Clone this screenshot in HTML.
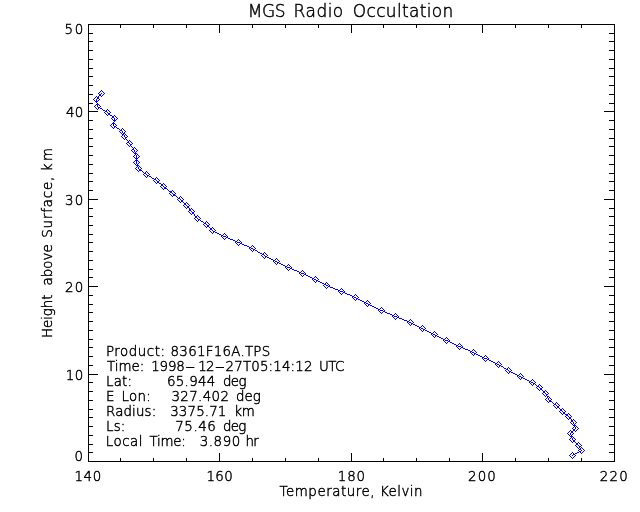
<!DOCTYPE html>
<html><head><meta charset="utf-8"><title>MGS Radio Occultation</title>
<style>html,body{margin:0;padding:0;background:#fff}svg{display:block}text{font-family:"DejaVu Sans Light","DejaVu Sans","Liberation Sans",sans-serif;font-weight:200;font-size:13.4px;fill:#000;stroke:#000;stroke-width:0.45px;white-space:pre}.t{font-size:17.0px}.ax{stroke:#000;stroke-width:1;fill:none;shape-rendering:crispEdges}</style></head><body>
<svg width="640" height="512" viewBox="0 0 640 512">
<rect width="640" height="512" fill="#fff"/>
<path class="ax" d="M88.5 24.5H614.5V461.5H88.5ZM120.5 462v-4M120.5 24v4M153.5 462v-4M153.5 24v4M186.5 462v-4M186.5 24v4M219.5 462v-9M219.5 24v9M252.5 462v-4M252.5 24v4M285.5 462v-4M285.5 24v4M318.5 462v-4M318.5 24v4M351.5 462v-9M351.5 24v9M383.5 462v-4M383.5 24v4M416.5 462v-4M416.5 24v4M449.5 462v-4M449.5 24v4M482.5 462v-9M482.5 24v9M515.5 462v-4M515.5 24v4M548.5 462v-4M548.5 24v4M581.5 462v-4M581.5 24v4M88 452.5h5M615 452.5h-6M88 444.5h5M615 444.5h-6M88 435.5h5M615 435.5h-6M88 426.5h5M615 426.5h-6M88 417.5h5M615 417.5h-6M88 409.5h5M615 409.5h-6M88 400.5h5M615 400.5h-6M88 391.5h5M615 391.5h-6M88 382.5h5M615 382.5h-6M88 374.5h10M615 374.5h-11M88 365.5h5M615 365.5h-6M88 356.5h5M615 356.5h-6M88 347.5h5M615 347.5h-6M88 339.5h5M615 339.5h-6M88 330.5h5M615 330.5h-6M88 321.5h5M615 321.5h-6M88 312.5h5M615 312.5h-6M88 304.5h5M615 304.5h-6M88 295.5h5M615 295.5h-6M88 286.5h10M615 286.5h-11M88 277.5h5M615 277.5h-6M88 269.5h5M615 269.5h-6M88 260.5h5M615 260.5h-6M88 251.5h5M615 251.5h-6M88 242.5h5M615 242.5h-6M88 234.5h5M615 234.5h-6M88 225.5h5M615 225.5h-6M88 216.5h5M615 216.5h-6M88 208.5h5M615 208.5h-6M88 199.5h10M615 199.5h-11M88 190.5h5M615 190.5h-6M88 181.5h5M615 181.5h-6M88 173.5h5M615 173.5h-6M88 164.5h5M615 164.5h-6M88 155.5h5M615 155.5h-6M88 146.5h5M615 146.5h-6M88 138.5h5M615 138.5h-6M88 129.5h5M615 129.5h-6M88 120.5h5M615 120.5h-6M88 111.5h10M615 111.5h-11M88 103.5h5M615 103.5h-6M88 94.5h5M615 94.5h-6M88 85.5h5M615 85.5h-6M88 76.5h5M615 76.5h-6M88 68.5h5M615 68.5h-6M88 59.5h5M615 59.5h-6M88 50.5h5M615 50.5h-6M88 41.5h5M615 41.5h-6M88 33.5h5M615 33.5h-6"/>
<path fill="#0000ff" shape-rendering="crispEdges" d="M101 90h1v1h-1zM100 91h1v1h-1zM102 91h1v1h-1zM99 92h1v1h-1zM103 92h1v1h-1zM98 93h1v1h-1zM101 93h1v1h-1zM104 93h1v1h-1zM99 94h2v1h-2zM103 94h1v1h-1zM99 95h2v1h-2zM102 95h1v1h-1zM96 96h1v1h-1zM98 96h1v1h-1zM101 96h1v1h-1zM95 97h1v1h-1zM97 97h2v1h-2zM94 98h1v1h-1zM97 98h2v1h-2zM93 99h1v1h-1zM96 99h1v1h-1zM99 99h1v1h-1zM94 100h1v1h-1zM96 100h1v1h-1zM98 100h1v1h-1zM95 101h3v1h-3zM96 102h1v1h-1zM97 103h1v1h-1zM96 104h3v1h-3zM95 105h1v1h-1zM97 105h1v1h-1zM99 105h1v1h-1zM94 106h1v1h-1zM97 106h1v1h-1zM100 106h1v1h-1zM95 107h1v1h-1zM98 107h2v1h-2zM96 108h1v1h-1zM98 108h1v1h-1zM100 108h2v1h-2zM97 109h1v1h-1zM102 109h1v1h-1zM107 109h1v1h-1zM103 110h2v1h-2zM106 110h1v1h-1zM108 110h1v1h-1zM105 111h2v1h-2zM109 111h1v1h-1zM104 112h1v1h-1zM107 112h1v1h-1zM110 112h1v1h-1zM105 113h1v1h-1zM108 113h2v1h-2zM106 114h1v1h-1zM108 114h2v1h-2zM107 115h1v1h-1zM110 115h2v1h-2zM114 115h1v1h-1zM112 116h2v1h-2zM115 116h1v1h-1zM112 117h2v1h-2zM116 117h1v1h-1zM111 118h1v1h-1zM114 118h1v1h-1zM117 118h1v1h-1zM112 119h1v1h-1zM114 119h1v1h-1zM116 119h1v1h-1zM113 120h3v1h-3zM114 121h1v1h-1zM113 122h1v1h-1zM112 123h3v1h-3zM111 124h1v1h-1zM113 124h1v1h-1zM115 124h1v1h-1zM110 125h1v1h-1zM113 125h1v1h-1zM116 125h1v1h-1zM111 126h1v1h-1zM114 126h2v1h-2zM112 127h1v1h-1zM114 127h1v1h-1zM116 127h1v1h-1zM113 128h1v1h-1zM117 128h2v1h-2zM122 128h1v1h-1zM119 129h1v1h-1zM121 129h1v1h-1zM123 129h1v1h-1zM120 130h2v1h-2zM124 130h1v1h-1zM119 131h1v1h-1zM122 131h1v1h-1zM125 131h1v1h-1zM120 132h1v1h-1zM122 132h1v1h-1zM124 132h1v1h-1zM121 133h1v1h-1zM123 133h2v1h-2zM122 134h2v1h-2zM125 134h1v1h-1zM122 135h1v1h-1zM124 135h1v1h-1zM126 135h1v1h-1zM121 136h1v1h-1zM124 136h1v1h-1zM127 136h1v1h-1zM122 137h1v1h-1zM125 137h2v1h-2zM123 138h1v1h-1zM125 138h1v1h-1zM124 139h1v1h-1zM126 139h1v1h-1zM127 140h1v1h-1zM129 140h1v1h-1zM128 141h1v1h-1zM130 141h1v1h-1zM127 142h2v1h-2zM131 142h1v1h-1zM126 143h1v1h-1zM129 143h1v1h-1zM132 143h1v1h-1zM127 144h1v1h-1zM130 144h2v1h-2zM128 145h1v1h-1zM130 145h1v1h-1zM129 146h1v1h-1zM131 146h1v1h-1zM132 147h1v1h-1zM134 147h1v1h-1zM133 148h1v1h-1zM135 148h1v1h-1zM132 149h2v1h-2zM136 149h1v1h-1zM131 150h1v1h-1zM134 150h1v1h-1zM137 150h1v1h-1zM132 151h1v1h-1zM134 151h1v1h-1zM136 151h1v1h-1zM133 152h1v1h-1zM135 152h1v1h-1zM134 153h3v1h-3zM135 154h1v1h-1zM137 154h1v1h-1zM134 155h1v1h-1zM136 155h1v1h-1zM138 155h1v1h-1zM133 156h1v1h-1zM136 156h1v1h-1zM139 156h1v1h-1zM134 157h1v1h-1zM136 157h1v1h-1zM138 157h1v1h-1zM135 158h3v1h-3zM136 159h1v1h-1zM135 160h3v1h-3zM134 161h1v1h-1zM136 161h1v1h-1zM138 161h1v1h-1zM133 162h1v1h-1zM136 162h1v1h-1zM139 162h1v1h-1zM134 163h1v1h-1zM136 163h1v1h-1zM138 163h1v1h-1zM135 164h1v1h-1zM137 164h1v1h-1zM136 165h3v1h-3zM137 166h1v1h-1zM139 166h1v1h-1zM136 167h1v1h-1zM138 167h1v1h-1zM140 167h1v1h-1zM135 168h1v1h-1zM138 168h1v1h-1zM141 168h1v1h-1zM136 169h1v1h-1zM139 169h2v1h-2zM137 170h1v1h-1zM139 170h3v1h-3zM138 171h1v1h-1zM142 171h1v1h-1zM146 171h1v1h-1zM143 172h1v1h-1zM145 172h1v1h-1zM147 172h1v1h-1zM144 173h2v1h-2zM148 173h1v1h-1zM143 174h1v1h-1zM146 174h1v1h-1zM149 174h1v1h-1zM144 175h1v1h-1zM147 175h2v1h-2zM145 176h1v1h-1zM147 176h1v1h-1zM149 176h2v1h-2zM146 177h1v1h-1zM151 177h1v1h-1zM156 177h1v1h-1zM152 178h2v1h-2zM155 178h1v1h-1zM157 178h1v1h-1zM154 179h2v1h-2zM158 179h1v1h-1zM153 180h1v1h-1zM156 180h1v1h-1zM159 180h1v1h-1zM154 181h1v1h-1zM157 181h2v1h-2zM155 182h1v1h-1zM157 182h2v1h-2zM156 183h1v1h-1zM159 183h2v1h-2zM163 183h1v1h-1zM161 184h2v1h-2zM164 184h1v1h-1zM161 185h2v1h-2zM165 185h1v1h-1zM160 186h1v1h-1zM163 186h1v1h-1zM166 186h1v1h-1zM161 187h1v1h-1zM164 187h2v1h-2zM162 188h1v1h-1zM164 188h3v1h-3zM163 189h1v1h-1zM167 189h1v1h-1zM168 190h1v1h-1zM172 190h1v1h-1zM169 191h3v1h-3zM173 191h1v1h-1zM170 192h2v1h-2zM174 192h1v1h-1zM169 193h1v1h-1zM172 193h1v1h-1zM175 193h1v1h-1zM170 194h1v1h-1zM173 194h2v1h-2zM171 195h1v1h-1zM173 195h3v1h-3zM172 196h1v1h-1zM176 196h1v1h-1zM180 196h1v1h-1zM177 197h1v1h-1zM179 197h1v1h-1zM181 197h1v1h-1zM178 198h2v1h-2zM182 198h1v1h-1zM177 199h1v1h-1zM180 199h1v1h-1zM183 199h1v1h-1zM178 200h1v1h-1zM181 200h2v1h-2zM179 201h1v1h-1zM181 201h2v1h-2zM180 202h1v1h-1zM183 202h1v1h-1zM186 202h1v1h-1zM184 203h2v1h-2zM187 203h1v1h-1zM184 204h2v1h-2zM188 204h1v1h-1zM183 205h1v1h-1zM186 205h1v1h-1zM189 205h1v1h-1zM184 206h1v1h-1zM187 206h2v1h-2zM185 207h1v1h-1zM187 207h2v1h-2zM186 208h1v1h-1zM189 208h1v1h-1zM191 208h1v1h-1zM189 209h2v1h-2zM192 209h1v1h-1zM189 210h2v1h-2zM193 210h1v1h-1zM188 211h1v1h-1zM191 211h1v1h-1zM194 211h1v1h-1zM189 212h1v1h-1zM192 212h2v1h-2zM190 213h1v1h-1zM192 213h2v1h-2zM191 214h1v1h-1zM194 214h1v1h-1zM194 215h1v1h-1zM197 215h1v1h-1zM195 216h2v1h-2zM198 216h1v1h-1zM195 217h2v1h-2zM199 217h1v1h-1zM194 218h1v1h-1zM197 218h1v1h-1zM200 218h1v1h-1zM195 219h1v1h-1zM198 219h2v1h-2zM196 220h1v1h-1zM198 220h1v1h-1zM200 220h1v1h-1zM197 221h1v1h-1zM201 221h2v1h-2zM206 221h1v1h-1zM203 222h1v1h-1zM205 222h1v1h-1zM207 222h1v1h-1zM204 223h2v1h-2zM208 223h1v1h-1zM203 224h1v1h-1zM206 224h1v1h-1zM209 224h1v1h-1zM204 225h1v1h-1zM207 225h2v1h-2zM205 226h1v1h-1zM207 226h2v1h-2zM206 227h1v1h-1zM209 227h1v1h-1zM212 227h1v1h-1zM210 228h2v1h-2zM213 228h1v1h-1zM210 229h2v1h-2zM214 229h1v1h-1zM209 230h1v1h-1zM212 230h1v1h-1zM215 230h1v1h-1zM210 231h1v1h-1zM213 231h2v1h-2zM211 232h1v1h-1zM213 232h1v1h-1zM215 232h2v1h-2zM212 233h1v1h-1zM217 233h2v1h-2zM224 233h1v1h-1zM219 234h2v1h-2zM223 234h1v1h-1zM225 234h1v1h-1zM221 235h2v1h-2zM226 235h1v1h-1zM221 236h1v1h-1zM223 236h3v1h-3zM227 236h1v1h-1zM222 237h1v1h-1zM226 237h2v1h-2zM223 238h1v1h-1zM225 238h1v1h-1zM228 238h2v1h-2zM224 239h1v1h-1zM230 239h3v1h-3zM238 239h1v1h-1zM233 240h2v1h-2zM237 240h1v1h-1zM239 240h1v1h-1zM235 241h2v1h-2zM240 241h1v1h-1zM235 242h1v1h-1zM237 242h3v1h-3zM241 242h1v1h-1zM236 243h1v1h-1zM240 243h2v1h-2zM237 244h1v1h-1zM239 244h1v1h-1zM242 244h2v1h-2zM238 245h1v1h-1zM244 245h3v1h-3zM252 245h1v1h-1zM247 246h2v1h-2zM251 246h1v1h-1zM253 246h1v1h-1zM249 247h2v1h-2zM254 247h1v1h-1zM249 248h1v1h-1zM251 248h2v1h-2zM255 248h1v1h-1zM250 249h1v1h-1zM253 249h2v1h-2zM251 250h1v1h-1zM253 250h1v1h-1zM255 250h2v1h-2zM252 251h1v1h-1zM257 251h1v1h-1zM258 252h2v1h-2zM264 252h1v1h-1zM260 253h2v1h-2zM263 253h1v1h-1zM265 253h1v1h-1zM262 254h2v1h-2zM266 254h1v1h-1zM261 255h1v1h-1zM264 255h1v1h-1zM267 255h1v1h-1zM262 256h1v1h-1zM265 256h2v1h-2zM263 257h1v1h-1zM265 257h1v1h-1zM267 257h2v1h-2zM264 258h1v1h-1zM269 258h2v1h-2zM276 258h1v1h-1zM271 259h2v1h-2zM275 259h1v1h-1zM277 259h1v1h-1zM273 260h2v1h-2zM278 260h1v1h-1zM273 261h1v1h-1zM275 261h2v1h-2zM279 261h1v1h-1zM274 262h1v1h-1zM277 262h2v1h-2zM275 263h1v1h-1zM277 263h1v1h-1zM279 263h2v1h-2zM276 264h1v1h-1zM281 264h2v1h-2zM288 264h1v1h-1zM283 265h2v1h-2zM287 265h1v1h-1zM289 265h1v1h-1zM285 266h2v1h-2zM290 266h1v1h-1zM285 267h1v1h-1zM287 267h3v1h-3zM291 267h1v1h-1zM286 268h1v1h-1zM290 268h2v1h-2zM287 269h1v1h-1zM289 269h1v1h-1zM292 269h2v1h-2zM288 270h1v1h-1zM294 270h3v1h-3zM302 270h1v1h-1zM297 271h2v1h-2zM301 271h1v1h-1zM303 271h1v1h-1zM299 272h2v1h-2zM304 272h1v1h-1zM299 273h1v1h-1zM301 273h3v1h-3zM305 273h1v1h-1zM300 274h1v1h-1zM304 274h2v1h-2zM301 275h1v1h-1zM303 275h1v1h-1zM306 275h2v1h-2zM302 276h1v1h-1zM308 276h2v1h-2zM315 276h1v1h-1zM310 277h2v1h-2zM314 277h1v1h-1zM316 277h1v1h-1zM312 278h2v1h-2zM317 278h1v1h-1zM312 279h1v1h-1zM314 279h2v1h-2zM318 279h1v1h-1zM313 280h1v1h-1zM316 280h2v1h-2zM314 281h1v1h-1zM316 281h1v1h-1zM318 281h2v1h-2zM315 282h1v1h-1zM320 282h2v1h-2zM326 282h1v1h-1zM322 283h2v1h-2zM325 283h1v1h-1zM327 283h1v1h-1zM324 284h2v1h-2zM328 284h1v1h-1zM323 285h1v1h-1zM326 285h2v1h-2zM329 285h1v1h-1zM324 286h1v1h-1zM328 286h2v1h-2zM325 287h1v1h-1zM327 287h1v1h-1zM330 287h3v1h-3zM326 288h1v1h-1zM333 288h2v1h-2zM341 288h1v1h-1zM335 289h3v1h-3zM340 289h1v1h-1zM342 289h1v1h-1zM338 290h2v1h-2zM343 290h1v1h-1zM338 291h1v1h-1zM340 291h3v1h-3zM344 291h1v1h-1zM339 292h1v1h-1zM343 292h2v1h-2zM340 293h1v1h-1zM342 293h1v1h-1zM345 293h2v1h-2zM341 294h1v1h-1zM347 294h3v1h-3zM355 294h1v1h-1zM350 295h2v1h-2zM354 295h1v1h-1zM356 295h1v1h-1zM352 296h2v1h-2zM357 296h1v1h-1zM352 297h1v1h-1zM354 297h2v1h-2zM358 297h1v1h-1zM353 298h1v1h-1zM356 298h2v1h-2zM354 299h1v1h-1zM356 299h1v1h-1zM358 299h2v1h-2zM355 300h1v1h-1zM360 300h2v1h-2zM367 300h1v1h-1zM362 301h2v1h-2zM366 301h1v1h-1zM368 301h1v1h-1zM364 302h2v1h-2zM369 302h1v1h-1zM364 303h1v1h-1zM366 303h2v1h-2zM370 303h1v1h-1zM365 304h1v1h-1zM368 304h2v1h-2zM366 305h1v1h-1zM368 305h1v1h-1zM370 305h2v1h-2zM367 306h1v1h-1zM372 306h2v1h-2zM374 307h2v1h-2zM381 307h1v1h-1zM376 308h2v1h-2zM380 308h1v1h-1zM382 308h1v1h-1zM378 309h2v1h-2zM383 309h1v1h-1zM378 310h1v1h-1zM380 310h3v1h-3zM384 310h1v1h-1zM379 311h1v1h-1zM383 311h2v1h-2zM380 312h1v1h-1zM382 312h1v1h-1zM385 312h2v1h-2zM381 313h1v1h-1zM387 313h3v1h-3zM395 313h1v1h-1zM390 314h2v1h-2zM394 314h1v1h-1zM396 314h1v1h-1zM392 315h2v1h-2zM397 315h1v1h-1zM392 316h1v1h-1zM394 316h3v1h-3zM398 316h1v1h-1zM393 317h1v1h-1zM397 317h2v1h-2zM394 318h1v1h-1zM396 318h1v1h-1zM399 318h3v1h-3zM395 319h1v1h-1zM402 319h2v1h-2zM410 319h1v1h-1zM404 320h3v1h-3zM409 320h1v1h-1zM411 320h1v1h-1zM407 321h2v1h-2zM412 321h1v1h-1zM407 322h1v1h-1zM409 322h2v1h-2zM413 322h1v1h-1zM408 323h1v1h-1zM411 323h2v1h-2zM409 324h1v1h-1zM411 324h1v1h-1zM413 324h2v1h-2zM410 325h1v1h-1zM415 325h2v1h-2zM422 325h1v1h-1zM417 326h2v1h-2zM421 326h1v1h-1zM423 326h1v1h-1zM419 327h2v1h-2zM424 327h1v1h-1zM419 328h1v1h-1zM421 328h2v1h-2zM425 328h1v1h-1zM420 329h1v1h-1zM423 329h2v1h-2zM421 330h1v1h-1zM423 330h1v1h-1zM425 330h2v1h-2zM422 331h1v1h-1zM427 331h2v1h-2zM434 331h1v1h-1zM429 332h2v1h-2zM433 332h1v1h-1zM435 332h1v1h-1zM431 333h2v1h-2zM436 333h1v1h-1zM431 334h1v1h-1zM433 334h2v1h-2zM437 334h1v1h-1zM432 335h1v1h-1zM435 335h2v1h-2zM433 336h1v1h-1zM435 336h1v1h-1zM437 336h2v1h-2zM434 337h1v1h-1zM439 337h2v1h-2zM446 337h1v1h-1zM441 338h2v1h-2zM445 338h1v1h-1zM447 338h1v1h-1zM443 339h2v1h-2zM448 339h1v1h-1zM443 340h1v1h-1zM445 340h3v1h-3zM449 340h1v1h-1zM444 341h1v1h-1zM448 341h2v1h-2zM445 342h1v1h-1zM447 342h1v1h-1zM450 342h2v1h-2zM446 343h1v1h-1zM452 343h2v1h-2zM459 343h1v1h-1zM454 344h2v1h-2zM458 344h1v1h-1zM460 344h1v1h-1zM456 345h2v1h-2zM461 345h1v1h-1zM456 346h1v1h-1zM458 346h3v1h-3zM462 346h1v1h-1zM457 347h1v1h-1zM461 347h2v1h-2zM458 348h1v1h-1zM460 348h1v1h-1zM463 348h2v1h-2zM459 349h1v1h-1zM465 349h3v1h-3zM473 349h1v1h-1zM468 350h2v1h-2zM472 350h1v1h-1zM474 350h1v1h-1zM470 351h2v1h-2zM475 351h1v1h-1zM470 352h1v1h-1zM472 352h2v1h-2zM476 352h1v1h-1zM471 353h1v1h-1zM474 353h2v1h-2zM472 354h1v1h-1zM474 354h1v1h-1zM476 354h2v1h-2zM473 355h1v1h-1zM478 355h2v1h-2zM485 355h1v1h-1zM480 356h2v1h-2zM484 356h1v1h-1zM486 356h1v1h-1zM482 357h2v1h-2zM487 357h1v1h-1zM482 358h1v1h-1zM484 358h3v1h-3zM488 358h1v1h-1zM483 359h1v1h-1zM487 359h2v1h-2zM484 360h1v1h-1zM486 360h1v1h-1zM489 360h2v1h-2zM485 361h1v1h-1zM491 361h2v1h-2zM498 361h1v1h-1zM493 362h2v1h-2zM497 362h1v1h-1zM499 362h1v1h-1zM495 363h2v1h-2zM500 363h1v1h-1zM495 364h1v1h-1zM497 364h2v1h-2zM501 364h1v1h-1zM496 365h1v1h-1zM499 365h2v1h-2zM497 366h1v1h-1zM499 366h1v1h-1zM501 366h2v1h-2zM498 367h1v1h-1zM503 367h1v1h-1zM508 367h1v1h-1zM504 368h2v1h-2zM507 368h1v1h-1zM509 368h1v1h-1zM506 369h2v1h-2zM510 369h1v1h-1zM505 370h1v1h-1zM508 370h1v1h-1zM511 370h1v1h-1zM506 371h1v1h-1zM509 371h2v1h-2zM507 372h1v1h-1zM509 372h1v1h-1zM511 372h2v1h-2zM508 373h1v1h-1zM513 373h2v1h-2zM520 373h1v1h-1zM515 374h2v1h-2zM519 374h1v1h-1zM521 374h1v1h-1zM517 375h2v1h-2zM522 375h1v1h-1zM517 376h1v1h-1zM519 376h2v1h-2zM523 376h1v1h-1zM518 377h1v1h-1zM521 377h2v1h-2zM519 378h1v1h-1zM521 378h1v1h-1zM523 378h2v1h-2zM520 379h1v1h-1zM525 379h2v1h-2zM532 379h1v1h-1zM527 380h2v1h-2zM531 380h1v1h-1zM533 380h1v1h-1zM529 381h2v1h-2zM534 381h1v1h-1zM529 382h1v1h-1zM531 382h2v1h-2zM535 382h1v1h-1zM530 383h1v1h-1zM533 383h2v1h-2zM531 384h1v1h-1zM533 384h1v1h-1zM535 384h1v1h-1zM539 384h1v1h-1zM532 385h1v1h-1zM536 385h1v1h-1zM538 385h1v1h-1zM540 385h1v1h-1zM537 386h2v1h-2zM541 386h1v1h-1zM536 387h1v1h-1zM539 387h1v1h-1zM542 387h1v1h-1zM537 388h1v1h-1zM540 388h2v1h-2zM538 389h1v1h-1zM540 389h2v1h-2zM539 390h1v1h-1zM542 390h1v1h-1zM545 390h1v1h-1zM543 391h2v1h-2zM546 391h1v1h-1zM543 392h2v1h-2zM547 392h1v1h-1zM542 393h1v1h-1zM545 393h1v1h-1zM548 393h1v1h-1zM543 394h1v1h-1zM546 394h2v1h-2zM544 395h1v1h-1zM546 395h1v1h-1zM545 396h1v1h-1zM547 396h2v1h-2zM547 397h1v1h-1zM549 397h1v1h-1zM546 398h1v1h-1zM548 398h1v1h-1zM550 398h1v1h-1zM545 399h1v1h-1zM548 399h1v1h-1zM551 399h1v1h-1zM546 400h1v1h-1zM549 400h2v1h-2zM547 401h1v1h-1zM549 401h3v1h-3zM548 402h1v1h-1zM552 402h1v1h-1zM556 402h1v1h-1zM553 403h1v1h-1zM555 403h1v1h-1zM557 403h1v1h-1zM554 404h2v1h-2zM558 404h1v1h-1zM553 405h1v1h-1zM556 405h1v1h-1zM559 405h1v1h-1zM554 406h1v1h-1zM557 406h2v1h-2zM555 407h1v1h-1zM557 407h2v1h-2zM556 408h1v1h-1zM559 408h1v1h-1zM562 408h1v1h-1zM560 409h2v1h-2zM563 409h1v1h-1zM560 410h2v1h-2zM564 410h1v1h-1zM559 411h1v1h-1zM562 411h1v1h-1zM565 411h1v1h-1zM560 412h1v1h-1zM563 412h2v1h-2zM561 413h1v1h-1zM563 413h2v1h-2zM568 413h1v1h-1zM562 414h1v1h-1zM565 414h3v1h-3zM569 414h1v1h-1zM566 415h2v1h-2zM570 415h1v1h-1zM565 416h1v1h-1zM568 416h1v1h-1zM571 416h1v1h-1zM566 417h1v1h-1zM569 417h2v1h-2zM567 418h1v1h-1zM569 418h2v1h-2zM568 419h1v1h-1zM571 419h1v1h-1zM573 419h1v1h-1zM571 420h2v1h-2zM574 420h1v1h-1zM571 421h2v1h-2zM575 421h1v1h-1zM570 422h1v1h-1zM573 422h1v1h-1zM576 422h1v1h-1zM571 423h1v1h-1zM573 423h1v1h-1zM575 423h1v1h-1zM572 424h1v1h-1zM574 424h1v1h-1zM573 425h3v1h-3zM574 426h1v1h-1zM576 426h1v1h-1zM573 427h1v1h-1zM575 427h1v1h-1zM577 427h1v1h-1zM572 428h1v1h-1zM575 428h1v1h-1zM578 428h1v1h-1zM573 429h2v1h-2zM577 429h1v1h-1zM570 430h1v1h-1zM573 430h2v1h-2zM576 430h1v1h-1zM569 431h1v1h-1zM571 431h2v1h-2zM575 431h1v1h-1zM568 432h1v1h-1zM571 432h2v1h-2zM567 433h1v1h-1zM570 433h1v1h-1zM573 433h1v1h-1zM568 434h1v1h-1zM570 434h1v1h-1zM572 434h1v1h-1zM569 435h1v1h-1zM571 435h1v1h-1zM570 436h3v1h-3zM571 437h1v1h-1zM573 437h1v1h-1zM570 438h1v1h-1zM572 438h1v1h-1zM574 438h1v1h-1zM569 439h1v1h-1zM572 439h1v1h-1zM575 439h1v1h-1zM570 440h1v1h-1zM573 440h2v1h-2zM571 441h1v1h-1zM573 441h2v1h-2zM572 442h1v1h-1zM575 442h1v1h-1zM578 442h1v1h-1zM576 443h2v1h-2zM579 443h1v1h-1zM576 444h2v1h-2zM580 444h1v1h-1zM575 445h1v1h-1zM578 445h1v1h-1zM581 445h1v1h-1zM576 446h1v1h-1zM579 446h2v1h-2zM577 447h1v1h-1zM579 447h1v1h-1zM581 447h1v1h-1zM578 448h1v1h-1zM580 448h1v1h-1zM582 448h1v1h-1zM579 449h2v1h-2zM583 449h1v1h-1zM578 450h1v1h-1zM581 450h1v1h-1zM584 450h1v1h-1zM579 451h2v1h-2zM583 451h1v1h-1zM572 452h1v1h-1zM577 452h2v1h-2zM580 452h1v1h-1zM582 452h1v1h-1zM571 453h1v1h-1zM573 453h1v1h-1zM575 453h2v1h-2zM581 453h1v1h-1zM570 454h1v1h-1zM573 454h2v1h-2zM569 455h1v1h-1zM572 455h1v1h-1zM575 455h1v1h-1zM570 456h1v1h-1zM574 456h1v1h-1zM571 457h1v1h-1zM573 457h1v1h-1zM572 458h1v1h-1z"/>
<text y="16.6" class="t"><tspan x="247.8" style="letter-spacing:-0.43px">MGS </tspan><tspan x="293.6" style="letter-spacing:0.47px">Radio </tspan><tspan x="352.8" style="letter-spacing:0.33px">Occultation</tspan></text>
<text y="480.6"><tspan x="74.6" style="letter-spacing:0.50px">140</tspan></text>
<text y="480.6"><tspan x="206.5" style="letter-spacing:0.30px">160</tspan></text>
<text y="480.6"><tspan x="337.8" style="letter-spacing:0.88px">180</tspan></text>
<text y="480.6"><tspan x="468.0" style="letter-spacing:1.15px">200</tspan></text>
<text y="480.6"><tspan x="599.8" style="letter-spacing:1.15px">220</tspan></text>
<text y="496"><tspan x="279.5" style="letter-spacing:0.55px">Temperature, </tspan><tspan x="380.0" style="letter-spacing:0.45px">Kelvin</tspan></text>
<text y="34"><tspan x="64.6" style="letter-spacing:1.70px">50</tspan></text>
<text y="116.9"><tspan x="66.0" style="letter-spacing:0.30px">40</tspan></text>
<text y="204.7"><tspan x="64.9" style="letter-spacing:1.40px">30</tspan></text>
<text y="291.7"><tspan x="65.0" style="letter-spacing:1.30px">20</tspan></text>
<text y="379.7"><tspan x="65.8" style="letter-spacing:0.55px">10</tspan></text>
<text y="461"><tspan x="74.5">0</tspan></text>
<text transform="translate(52.3 337.1) rotate(-90)" y="0"><tspan x="-1.0" style="letter-spacing:-0.04px">Height </tspan><tspan x="51.6" style="letter-spacing:0.05px">above </tspan><tspan x="99.4" style="letter-spacing:0.81px">Surface, </tspan><tspan x="165.8" style="letter-spacing:2.50px">km</tspan></text>
<text y="355.5"><tspan x="106.0" style="letter-spacing:0.51px">Product: </tspan><tspan x="170.6" style="letter-spacing:0.26px">8361F16A.TPS</tspan></text>
<text y="370.5"><tspan x="107.0">Time: </tspan><tspan x="151.3" style="letter-spacing:-0.23px">1998</tspan><tspan x="185.2" textLength="10.1" lengthAdjust="spacingAndGlyphs">-</tspan><tspan x="198.2" style="letter-spacing:-0.80px">12</tspan><tspan x="214.8" textLength="10.2" lengthAdjust="spacingAndGlyphs">-</tspan><tspan x="225.6" style="letter-spacing:0.15px">27T05:14:12 </tspan><tspan x="319.0" style="letter-spacing:-0.62px">UTC</tspan></text>
<text y="385.5"><tspan x="106.0" style="letter-spacing:0.17px">Lat: </tspan><tspan x="166.9" style="letter-spacing:0.32px">65.944 </tspan><tspan x="223.0" style="letter-spacing:-0.65px">deg</tspan></text>
<text y="400.5"><tspan x="106.0">E </tspan><tspan x="121.5" style="letter-spacing:0.30px">Lon: </tspan><tspan x="171.5" style="letter-spacing:0.35px">327.402 </tspan><tspan x="235.9" style="letter-spacing:0.05px">deg</tspan></text>
<text y="415.5"><tspan x="106.0" style="letter-spacing:0.13px">Radius: </tspan><tspan x="170.2" style="letter-spacing:0.13px">3375.71 </tspan><tspan x="234.2" style="letter-spacing:-0.20px">km</tspan></text>
<text y="430.5"><tspan x="106.0" style="letter-spacing:0.20px">Ls: </tspan><tspan x="175.3" style="letter-spacing:0.55px">75.46 </tspan><tspan x="223.0" style="letter-spacing:-0.75px">deg</tspan></text>
<text y="445.5"><tspan x="105.8" style="letter-spacing:0.47px">Local </tspan><tspan x="149.5" style="letter-spacing:-0.27px">Time: </tspan><tspan x="199.7" style="letter-spacing:0.58px">3.890 </tspan><tspan x="245.5" style="letter-spacing:-0.70px">hr</tspan></text>
</svg></body></html>
